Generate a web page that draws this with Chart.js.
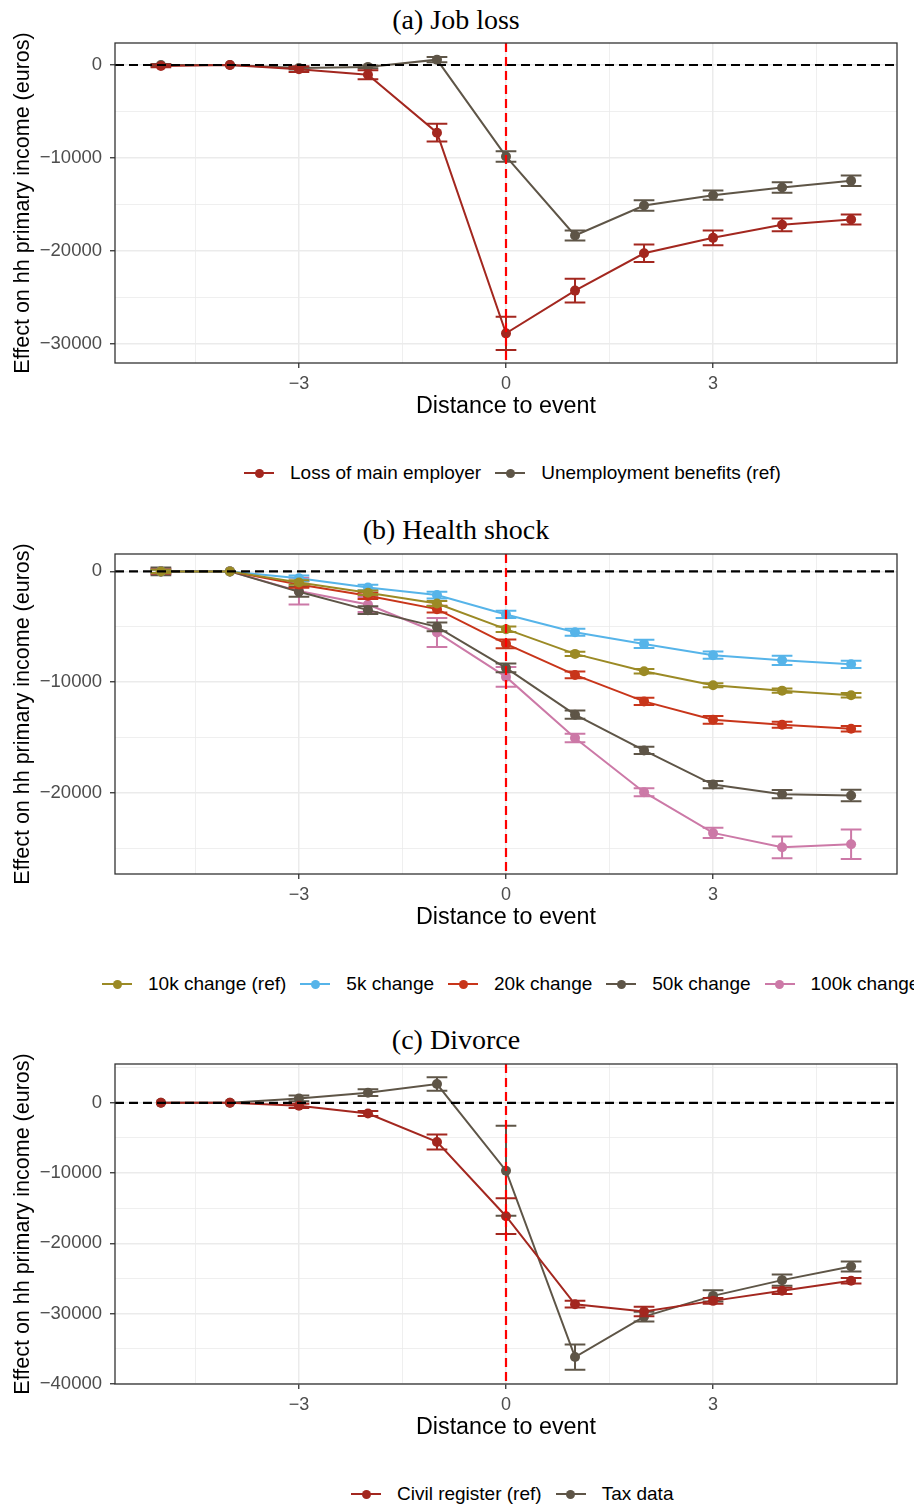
<!DOCTYPE html>
<html>
<head>
<meta charset="utf-8">
<script src="https://cdn.jsdelivr.net/npm/chart.js@4.4.1/dist/chart.umd.min.js"></script>
<style>
  body { margin: 0; width: 914px; height: 1509px; overflow: hidden; background: #fff; position: relative; font-family: "Liberation Sans", Arial, sans-serif; }
  .panel { position: absolute; left: 0; width: 914px; height: 430px; }
  .panel canvas { display: block; }
  .title { position: absolute; left: 0; width: 912px; text-align: center; font-family: "Liberation Serif", serif; font-size: 28px; line-height: 28px; color: #000; }
  .legend { position: absolute; white-space: nowrap; font-size: 19px; line-height: 20px; color: #000; display: flex; align-items: center; }
  .item { display: flex; align-items: center; margin-right: 14px; }
  .key { display: inline-block; position: relative; width: 30px; height: 2px; margin-right: 16px; }
  .key::after { content: ''; position: absolute; left: 10.5px; top: -3.5px; width: 9px; height: 9px; border-radius: 50%; background: inherit; }
</style>
</head>
<body>

<div class="title" style="top:6px">(a) Job loss</div>
<div class="panel" style="top:0px"><canvas id="jobChart" width="914" height="430"></canvas></div>
<div class="legend" id="jobLegend" style="left:244px; top:463px"></div>

<div class="title" style="top:516px">(b) Health shock</div>
<div class="panel" style="top:511px"><canvas id="healthChart" width="914" height="430"></canvas></div>
<div class="legend" id="healthLegend" style="left:102px; top:974px"></div>

<div class="title" style="top:1026px">(c) Divorce</div>
<div class="panel" style="top:1021px"><canvas id="divorceChart" width="914" height="430"></canvas></div>
<div class="legend" id="divorceLegend" style="left:351px; top:1484px"></div>

<script>
// event time relative to the shock
const eventTime = [-5, -4, -3, -2, -1, 0, 1, 2, 3, 4, 5];
const xMajor = [-3, 0, 3];
const xMinor = [-4.5, -1.5, 1.5, 4.5];

// (a) job loss: estimates and CI half-widths
const jobMainEmployer   = [-100, 0, -460, -1050, -7280, -28880, -24280, -20260, -18600, -17200, -16630];
const jobMainEmployerCI = [150, 0, 300, 480, 950, 1800, 1270, 940, 800, 680, 540];
const jobUnemployment   = [0, 0, -320, -200, 580, -9840, -18350, -15120, -14010, -13180, -12460];
const jobUnemploymentCI = [100, 0, 150, 150, 290, 560, 540, 560, 500, 570, 570];

// (b) health shock, by size of income change
const health10k    = [0, 0, -1000, -1930, -2900, -5220, -7450, -9020, -10290, -10770, -11190];
const health10kCI  = [150, 0, 200, 200, 230, 250, 200, 200, 180, 200, 200];
const health5k     = [0, 0, -630, -1450, -2140, -3890, -5490, -6550, -7570, -8030, -8390];
const health5kCI   = [150, 0, 250, 250, 300, 330, 320, 380, 330, 420, 330];
const health20k    = [0, 0, -1180, -2200, -3410, -6550, -9350, -11740, -13400, -13850, -14210];
const health20kCI  = [200, 0, 300, 300, 300, 400, 300, 330, 350, 280, 250];
const health50k    = [0, 0, -1840, -3500, -5010, -8720, -12940, -16170, -19250, -20120, -20240];
const health50kCI  = [350, 0, 450, 350, 390, 390, 380, 330, 330, 380, 510];
const health100k   = [0, 0, -1780, -2990, -5520, -9530, -15050, -19940, -23620, -24920, -24650];
const health100kCI = [250, 0, 1200, 680, 1310, 890, 380, 360, 470, 980, 1330];

// (c) divorce, two data sources
const divorceCivil   = [0, 0, -430, -1520, -5570, -16140, -28670, -29710, -28190, -26760, -25330];
const divorceCivilCI = [0, 0, 300, 350, 1070, 2550, 480, 670, 400, 450, 400];
const divorceTax     = [0, 0, 620, 1430, 2670, -9670, -36190, -30430, -27480, -25240, -23290];
const divorceTaxCI   = [0, 0, 400, 480, 950, 6400, 1790, 690, 810, 810, 715];

const colRed = '#A3271F';
const colGrey = '#5E5547';
const colOlive = '#9B8A25';
const colBlue = '#56B4E9';
const colVermilion = '#C8351A';
const colPink = '#CC79A7';

Chart.defaults.font.family = '"Liberation Sans", Arial, sans-serif';

function fmt(v) {
  return v < 0 ? '\u2212' + Math.abs(v) : String(v);
}

function series(label, values, ci, color) {
  return {
    label: label,
    data: eventTime.map((t, i) => ({ x: t, y: values[i] })),
    errors: ci,
    borderColor: color,
    backgroundColor: color,
    pointBackgroundColor: color,
    pointBorderWidth: 0,
    pointRadius: 5,
    borderWidth: 2,
    tension: 0
  };
}

// error bars with caps, drawn from each dataset's CI half-widths
const errorBars = {
  id: 'errorBars',
  afterDatasetDraw(chart, args) {
    const ds = chart.data.datasets[args.index];
    if (!ds.errors) return;
    const { ctx, chartArea, scales: { x, y } } = chart;
    const cap = (x.getPixelForValue(0.15) - x.getPixelForValue(0));
    ctx.save();
    ctx.beginPath();
    ctx.rect(chartArea.left, chartArea.top, chartArea.right - chartArea.left, chartArea.bottom - chartArea.top);
    ctx.clip();
    ctx.strokeStyle = ds.borderColor;
    ctx.lineWidth = 2;
    ds.data.forEach((p, i) => {
      const e = ds.errors[i];
      if (!e) return;
      const px = x.getPixelForValue(p.x);
      const hi = y.getPixelForValue(p.y + e);
      const lo = y.getPixelForValue(p.y - e);
      ctx.beginPath();
      ctx.moveTo(px, hi); ctx.lineTo(px, lo);
      ctx.moveTo(px - cap, hi); ctx.lineTo(px + cap, hi);
      ctx.moveTo(px - cap, lo); ctx.lineTo(px + cap, lo);
      ctx.stroke();
    });
    ctx.restore();
  }
};

// zero line and event line, plus the panel frame
const refLines = {
  id: 'refLines',
  afterDatasetsDraw(chart) {
    const { ctx, chartArea: a, scales: { x, y } } = chart;
    ctx.save();
    ctx.lineWidth = 2.2;
    ctx.setLineDash([9, 5]);
    const y0 = y.getPixelForValue(0);
    ctx.strokeStyle = '#000';
    ctx.beginPath(); ctx.moveTo(a.left, y0); ctx.lineTo(a.right, y0); ctx.stroke();
    const x0 = x.getPixelForValue(0);
    ctx.strokeStyle = '#FF0000';
    ctx.beginPath(); ctx.moveTo(x0, a.top); ctx.lineTo(x0, a.bottom); ctx.stroke();
    ctx.setLineDash([]);
    ctx.strokeStyle = '#333333';
    ctx.lineWidth = 1.3;
    ctx.strokeRect(a.left, a.top, a.right - a.left, a.bottom - a.top);
    ctx.restore();
  }
};

function makePanel(id, datasets, yMin, yMax, yMajor, yMinor) {
  const isMajorX = v => xMajor.includes(v);
  const isMajorY = v => yMajor.includes(v);
  return new Chart(document.getElementById(id), {
    type: 'line',
    data: { datasets: datasets },
    plugins: [errorBars, refLines],
    options: {
      responsive: false,
      animation: false,
      devicePixelRatio: 1,
      layout: { padding: { top: 43, right: 17, left: 0, bottom: 0 } },
      plugins: {
        legend: { display: false },
        tooltip: { enabled: false }
      },
      scales: {
        x: {
          type: 'linear',
          min: -5.665,
          max: 5.665,
          afterBuildTicks: axis => { axis.ticks = xMinor.concat(xMajor).sort((a, b) => a - b).map(v => ({ value: v })); },
          afterFit: s => { s.height = 67; },
          ticks: {
            autoSkip: false,
            maxRotation: 0,
            padding: 5,
            color: '#4D4D4D',
            font: { size: 18 },
            callback: v => isMajorX(v) ? fmt(v) : ''
          },
          grid: {
            color: '#EBEBEB',
            lineWidth: c => (c.tick && isMajorX(c.tick.value)) ? 1.5 : 0.8,
            tickColor: c => (c.tick && isMajorX(c.tick.value)) ? '#333333' : 'rgba(0,0,0,0)',
            tickWidth: 1.3,
            tickLength: 5
          },
          border: { display: false },
          title: {
            display: true,
            text: 'Distance to event',
            color: '#000',
            font: { size: 23.3 },
            padding: { top: 0, bottom: 9 }
          }
        },
        y: {
          min: yMin,
          max: yMax,
          afterBuildTicks: axis => { axis.ticks = yMinor.concat(yMajor).sort((a, b) => a - b).map(v => ({ value: v })); },
          afterFit: s => { s.width = 115; },
          ticks: {
            autoSkip: false,
            padding: 8,
            color: '#4D4D4D',
            font: { size: 18.5 },
            callback: v => isMajorY(v) ? fmt(v) : ''
          },
          grid: {
            color: '#EBEBEB',
            lineWidth: c => (c.tick && isMajorY(c.tick.value)) ? 1.5 : 0.8,
            tickColor: c => (c.tick && isMajorY(c.tick.value)) ? '#333333' : 'rgba(0,0,0,0)',
            tickWidth: 1.3,
            tickLength: 5
          },
          border: { display: false },
          title: {
            display: true,
            text: 'Effect on hh primary income (euros)',
            color: '#000',
            font: { size: 21.5 },
            padding: { top: 10, bottom: 0 }
          }
        }
      }
    }
  });
}

function buildLegend(id, datasets) {
  const box = document.getElementById(id);
  datasets.forEach(ds => {
    const item = document.createElement('span');
    item.className = 'item';
    const key = document.createElement('span');
    key.className = 'key';
    key.style.background = ds.borderColor;
    item.appendChild(key);
    item.appendChild(document.createTextNode(ds.label));
    box.appendChild(item);
  });
}

const jobSets = [
  series('Loss of main employer', jobMainEmployer, jobMainEmployerCI, colRed),
  series('Unemployment benefits (ref)', jobUnemployment, jobUnemploymentCI, colGrey)
];
makePanel('jobChart', jobSets, -32070, 2370, [0, -10000, -20000, -30000], [-5000, -15000, -25000]);
buildLegend('jobLegend', jobSets);

const healthSets = [
  series('10k change (ref)', health10k, health10kCI, colOlive),
  series('5k change', health5k, health5kCI, colBlue),
  series('20k change', health20k, health20kCI, colVermilion),
  series('50k change', health50k, health50kCI, colGrey),
  series('100k change', health100k, health100kCI, colPink)
];
makePanel('healthChart', healthSets, -27330, 1570, [0, -10000, -20000], [-5000, -15000, -25000]);
buildLegend('healthLegend', healthSets);

const divorceSets = [
  series('Civil register (ref)', divorceCivil, divorceCivilCI, colRed),
  series('Tax data', divorceTax, divorceTaxCI, colGrey)
];
makePanel('divorceChart', divorceSets, -40020, 5520, [0, -10000, -20000, -30000, -40000], [5000, -5000, -15000, -25000, -35000]);
buildLegend('divorceLegend', divorceSets);
</script>
</body>
</html>
